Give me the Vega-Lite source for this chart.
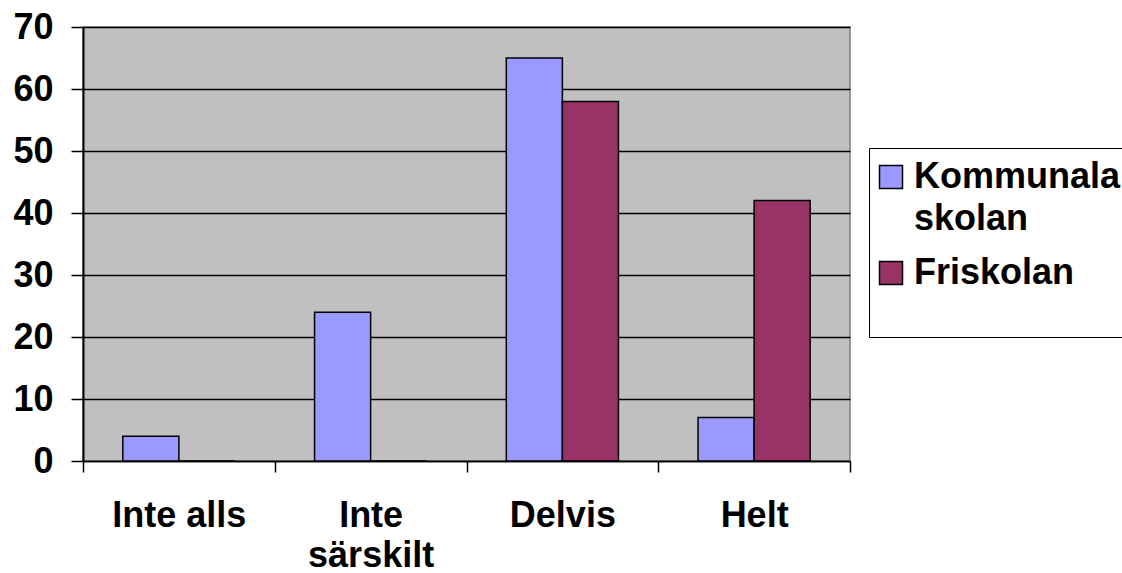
{
  "$schema": "https://vega.github.io/schema/vega-lite/v6.json",
  "width": 767,
  "height": 434,
  "autosize": {"type": "none"},
  "padding": {"left": 83, "top": 27, "right": 272, "bottom": 112},
  "background": "white",
  "data": {
    "values": [
      {"kategori": "Inte alls", "skola": "Kommunala skolan", "procent": 4},
      {"kategori": "Inte alls", "skola": "Friskolan", "procent": 0},
      {"kategori": "Inte särskilt", "skola": "Kommunala skolan", "procent": 24},
      {"kategori": "Inte särskilt", "skola": "Friskolan", "procent": 0},
      {"kategori": "Delvis", "skola": "Kommunala skolan", "procent": 65},
      {"kategori": "Delvis", "skola": "Friskolan", "procent": 58},
      {"kategori": "Helt", "skola": "Kommunala skolan", "procent": 7},
      {"kategori": "Helt", "skola": "Friskolan", "procent": 42}
    ]
  },
  "mark": {"type": "bar", "stroke": "black", "strokeWidth": 1.5},
  "encoding": {
    "x": {
      "field": "kategori",
      "type": "nominal",
      "sort": null,
      "scale": {"paddingInner": 0, "paddingOuter": 0},
      "axis": {
        "title": null,
        "tickBand": "extent",
        "labelAngle": 0,
        "tickSize": 11,
        "tickColor": "black",
        "tickWidth": 1.5,
        "domainColor": "black",
        "domainWidth": 1.5,
        "labelPadding": 26,
        "labelFont": "Liberation Sans",
        "labelFontWeight": "bold",
        "labelFontSize": 36,
        "labelColor": "black",
        "labelLineHeight": 40,
        "labelExpr": "datum.value == 'Inte särskilt' ? ['Inte', 'särskilt'] : datum.value"
      }
    },
    "xOffset": {
      "field": "skola",
      "type": "nominal",
      "sort": ["Kommunala skolan", "Friskolan"],
      "scale": {"paddingInner": 0, "paddingOuter": 0.71}
    },
    "y": {
      "field": "procent",
      "type": "quantitative",
      "scale": {"domain": [0, 70], "nice": false},
      "axis": {
        "title": null,
        "values": [0, 10, 20, 30, 40, 50, 60, 70],
        "grid": true,
        "gridColor": "black",
        "gridWidth": 1.5,
        "gridOpacity": 1,
        "tickSize": 12,
        "tickColor": "black",
        "tickWidth": 1.5,
        "domainColor": "black",
        "domainWidth": 2,
        "labelPadding": 18,
        "labelFont": "Liberation Sans",
        "labelFontWeight": "bold",
        "labelFontSize": 36,
        "labelColor": "black"
      }
    },
    "fill": {
      "field": "skola",
      "type": "nominal",
      "sort": ["Kommunala skolan", "Friskolan"],
      "scale": {"domain": ["Kommunala skolan", "Friskolan"], "range": ["#9999FF", "#993366"]},
      "legend": {
        "title": " ",
        "titleOrient": "bottom",
        "titleFontSize": 30,
        "titlePadding": 12,
        "orient": "none",
        "legendX": 786,
        "legendY": 121,
        "fillColor": "white",
        "strokeColor": "black",
        "padding": 4,
        "symbolType": "M-1,-0.4H1V1.6H-1Z",
        "symbolSize": 529,
        "symbolStrokeColor": "black",
        "symbolStrokeWidth": 1.5,
        "symbolOpacity": 1,
        "labelOffset": 5,
        "rowPadding": 11,
        "labelFont": "Liberation Sans",
        "labelFontWeight": "bold",
        "labelFontSize": 36,
        "labelColor": "black",
        "labelLimit": 400,
        "labelExpr": "datum.value == 'Kommunala skolan' ? ['Kommunala', 'skolan'] : datum.value",
        "encode": {"labels": {"update": {"lineHeight": {"value": 42}, "dy": {"value": 7}}}}
      }
    }
  },
  "config": {
    "view": {"fill": "#C0C0C0", "stroke": "#808080", "strokeWidth": 1.5},
    "style": {"guide-label": {"lineHeight": 42}}
  }
}
